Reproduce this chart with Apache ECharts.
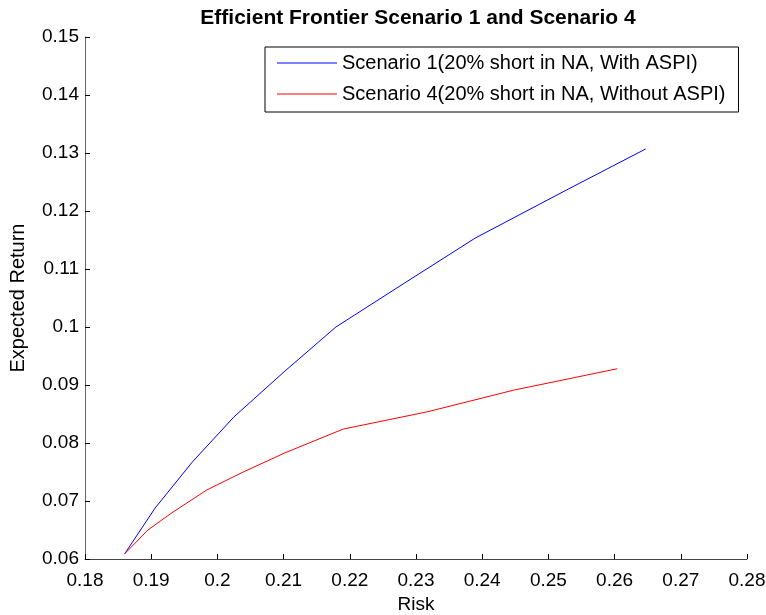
<!DOCTYPE html>
<html>
<head>
<meta charset="utf-8">
<script src="https://cdn.jsdelivr.net/npm/echarts@6/dist/echarts.min.js"></script>
<style>
  html, body { margin: 0; padding: 0; background: #fff; }
  #chart { width: 766px; height: 615px; }
</style>
</head>
<body>
<div id="chart"></div>
<script>
// series names
var seriesNames = [
    'Scenario 1(20% short in NA, With ASPI)',
    'Scenario 4(20% short in NA, Without ASPI)'
];

// risk / expected return
var risk1 = [0.1860, 0.1906, 0.1962, 0.2025, 0.2102, 0.2179, 0.2283, 0.2389, 0.2527, 0.2647];
var ret1  = [0.0609, 0.0688, 0.0767, 0.0845, 0.0924, 0.1000, 0.1076, 0.1153, 0.1236, 0.1307];

var risk4 = [0.1860, 0.1895, 0.1933, 0.1984, 0.2039, 0.2102, 0.2190, 0.2318, 0.2447, 0.2604];
var ret4  = [0.0609, 0.0650, 0.0681, 0.0719, 0.0750, 0.0783, 0.0824, 0.0854, 0.0891, 0.0928];

var font = 'Liberation Sans, Arial, sans-serif';

function pairs(xs, ys) {
    return xs.map(function(x, i) { return [x, ys[i]]; });
}

var myChart = echarts.init(document.getElementById('chart'));

var option = {
    backgroundColor: '#fff',
    animation: false,
    title: {
        text: 'Efficient Frontier Scenario 1 and Scenario 4',
        left: 413,
        top: 3,
        textAlign: 'center',
        textStyle: { fontFamily: font, fontSize: 21, fontWeight: 'bold', color: '#000' }
    },
    legend: {
        orient: 'vertical',
        left: 265,
        top: 47,
        padding: [6, 13, 8, 12],
        icon: 'rect',
        itemWidth: 60,
        itemHeight: 1,
        itemGap: 11,
        borderColor: '#000',
        borderWidth: 1,
        backgroundColor: '#fff',
        textStyle: { fontFamily: font, fontSize: 20, color: '#000' },
        data: seriesNames
    },
    grid: {
        left: 85,
        right: 19,
        top: 37,
        bottom: 56,
        outerBoundsMode: 'none'
    },
    xAxis: {
        type: 'value',
        min: 0.18,
        max: 0.28,
        interval: 0.01,
        name: 'Risk',
        nameLocation: 'middle',
        nameGap: 36,
        nameTextStyle: { fontFamily: font, fontSize: 19, color: '#000' },
        axisLine: { show: true, lineStyle: { color: '#444', width: 1 } },
        axisTick: { show: true, inside: true, length: 5, lineStyle: { color: '#000' } },
        axisLabel: { fontFamily: font, fontSize: 19, color: '#000', margin: 12 },
        splitLine: { show: false }
    },
    yAxis: {
        type: 'value',
        min: 0.06,
        max: 0.15,
        interval: 0.01,
        name: 'Expected Return',
        nameLocation: 'middle',
        nameRotate: 90,
        nameGap: 57,
        nameTextStyle: { fontFamily: font, fontSize: 20, color: '#000' },
        axisLine: { show: true, lineStyle: { color: '#666', width: 1 } },
        axisTick: { show: true, inside: true, length: 5, lineStyle: { color: '#000' } },
        axisLabel: { fontFamily: font, fontSize: 19, color: '#000', margin: 6 },
        splitLine: { show: false }
    },
    series: [
        {
            name: seriesNames[0],
            type: 'line',
            symbol: 'none',
            lineStyle: { color: '#0000ff', width: 1 },
            itemStyle: { color: '#0000ff' },
            data: pairs(risk1, ret1)
        },
        {
            name: seriesNames[1],
            type: 'line',
            symbol: 'none',
            lineStyle: { color: '#ff0000', width: 1 },
            itemStyle: { color: '#ff0000' },
            data: pairs(risk4, ret4)
        }
    ]
};
myChart.setOption(option);
</script>
</body>
</html>
